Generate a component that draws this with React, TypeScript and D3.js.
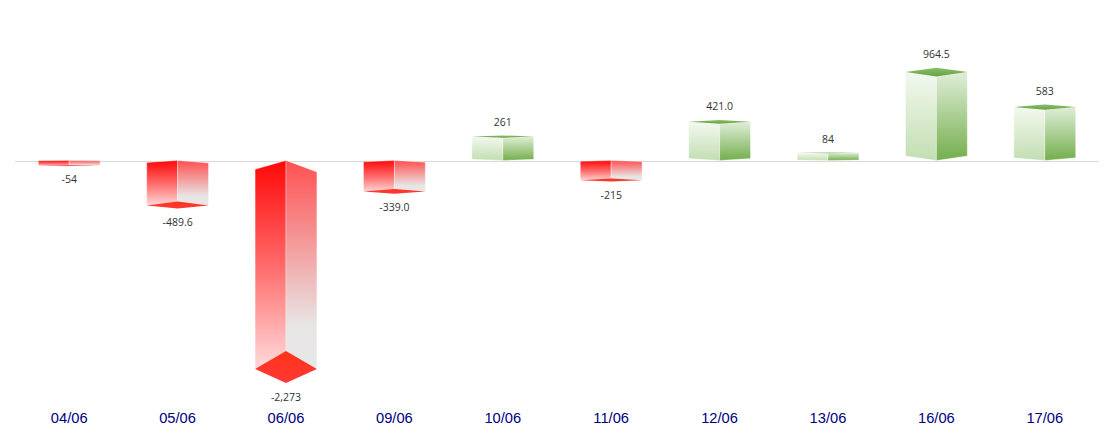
import { useEffect, useRef } from 'react';
import * as d3 from 'd3';

const dates = ['04/06', '05/06', '06/06', '09/06', '10/06', '11/06', '12/06', '13/06', '16/06', '17/06'];
const values = [-54, -489.6, -2273, -339, 261, -215, 421, 84, 964.5, 583];
const valueLabels = ['-54', '-489.6', '-2,273', '-339.0', '261', '-215', '421.0', '84', '964.5', '583'];

const gradients = [
    { id: 'neg-left', stops: [[0, '#ff0808'], [50, '#ff6a6a'], [100, '#ffdcdc']] },
    { id: 'neg-right', stops: [[0, '#ff5050'], [45, '#f2a4a4'], [78, '#e8e4e4'], [100, '#e8e8e8']] },
    { id: 'neg-cap', stops: [[0, '#ff3418'], [100, '#ff3838']] },
    { id: 'pos-left', stops: [[0, '#f3f8ef'], [100, '#c2deb2']] },
    { id: 'pos-right', stops: [[0, '#e0eed9'], [100, '#74ae4c']] },
    { id: 'pos-cap', stops: [[0, '#8cbf6c'], [100, '#64a33c']] },
];

export default function App() {
    const ref = useRef<SVGSVGElement>(null);

    useEffect(() => {
        const svg = d3.select(ref.current);
        svg.selectAll('*').remove();

        const x = d3.scaleBand().domain(dates).range([15, 1099]).paddingInner(0.43).paddingOuter(0.215);
        const y = d3.scaleLinear().domain([-2273, 964.5]).range([369, 72]);
        const base = y(0);

        // perspective offsets grow with bar size
        const skew = d3.scaleLinear().domain([0, 1000]).range([0, 4.6]);
        const capBack = d3.scaleLinear().domain([0, 1000]).range([0, 7.9]);
        const capFront = d3.scaleLinear().domain([0, 1000]).range([0, 6.2]);

        const defs = svg.append('defs');
        gradients.forEach(function(g) {
            const lg = defs.append('linearGradient').attr('id', g.id)
                .attr('x1', 0).attr('y1', 0).attr('x2', 0).attr('y2', 1);
            g.stops.forEach(function(s) {
                lg.append('stop').attr('offset', s[0] + '%').attr('stop-color', s[1]);
            });
        });

        svg.append('line')
            .attr('x1', 15).attr('x2', 1099)
            .attr('y1', 161.5).attr('y2', 161.5)
            .attr('stroke', '#d9d9d9');

        const line = d3.line();

        values.forEach(function(v, i) {
            const left = x(dates[i]) as number;
            const right = left + x.bandwidth();
            const mid = left + x.bandwidth() / 2;
            const end = y(v);
            const g = svg.append('g');
            const face = function(pts: [number, number][], fill: string, edge: boolean) {
                g.append('path')
                    .attr('d', line(pts) + 'Z')
                    .attr('fill', 'url(#' + fill + ')')
                    .attr('stroke', edge ? '#ffffff' : 'none')
                    .attr('stroke-opacity', 0.35);
            };

            if (v < 0) {
                const s = skew(-v);
                const back = end - capBack(-v);
                const front = end + capFront(-v);
                face([[left, base + s * 0.85], [mid, base], [mid, back], [mid, end + 1], [left, end]], 'neg-left', true);
                face([[mid, base], [right, base + s * 1.1], [right, end], [mid, end + 1], [mid, back]], 'neg-right', true);
                face([[left, end], [mid, back], [right, end], [mid, front]], 'neg-cap', false);
            } else {
                const s = skew(v);
                const back = end - s * 0.95;
                const front = end + s;
                face([[left, base - s], [mid, base], [mid, front], [left, end]], 'pos-left', true);
                face([[mid, base], [right, base - s], [right, end], [mid, front]], 'pos-right', true);
                face([[left, end], [mid, back], [right, end], [mid, front]], 'pos-cap', false);
            }

            const labelY = v < 0 ? y(v) + capFront(-v) + 17.5 : y(v) - skew(v) - 9.5;
            svg.append('text')
                .attr('x', mid)
                .attr('y', labelY)
                .attr('text-anchor', 'middle')
                .attr('font-family', '"Open Sans", sans-serif')
                .attr('font-size', 10.5)
                .attr('fill', '#333333')
                .text(valueLabels[i]);
        });

        svg.append('g')
            .selectAll('text')
            .data(dates).enter()
            .append('text')
            .attr('x', function(d) { return (x(d) as number) + x.bandwidth() / 2; })
            .attr('y', 423)
            .attr('text-anchor', 'middle')
            .attr('font-family', '"Liberation Sans", Arial, sans-serif')
            .attr('font-size', 14.7)
            .attr('fill', '#000080')
            .text(function(d) { return d; });
    }, []);

    return <svg ref={ref} width={1114} height={435} style={{ position: 'absolute', left: 0, top: 0, background: '#fff' }} />;
}
